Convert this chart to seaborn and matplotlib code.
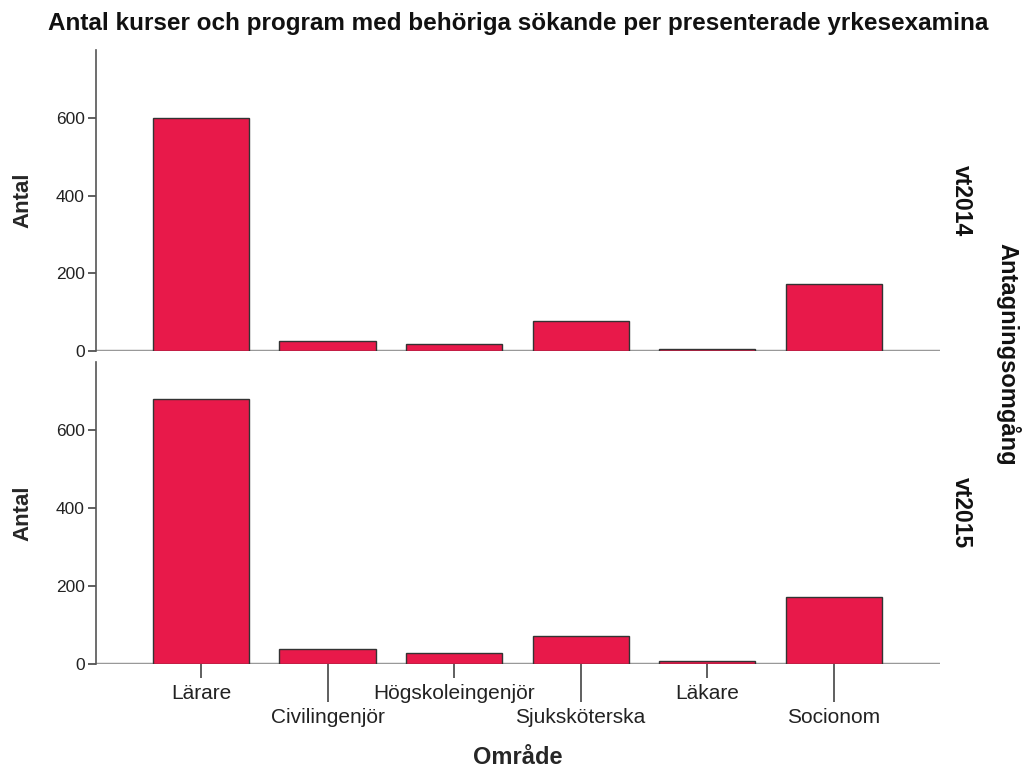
import pandas as pd
import matplotlib.pyplot as plt
import seaborn as sns

# Data
omraden = ['Lärare', 'Civilingenjör', 'Högskoleingenjör', 'Sjuksköterska', 'Läkare', 'Socionom']
vt2014 = [601, 26, 18, 77, 6, 173]
vt2015 = [680, 39, 27, 73, 8, 173]
omgangar = ['vt2014', 'vt2015']

df = pd.DataFrame({
    'Område': omraden * 2,
    'Antal': vt2014 + vt2015,
    'Antagningsomgång': [omgangar[0]] * len(omraden) + [omgangar[1]] * len(omraden),
})

sns.set_style('white')
plt.rcParams['font.family'] = ['Liberation Sans', 'DejaVu Sans']

bar_color = '#E8194A'

fig = plt.figure(figsize=(10.3, 7.73), dpi=100)
ax_top = fig.add_axes([0.0932, 0.546, 0.8194, 0.389])
ax_bot = fig.add_axes([0.0932, 0.141, 0.8194, 0.391])

for ax, omg in zip([ax_top, ax_bot], omgangar):
    sub = df[df['Antagningsomgång'] == omg]
    sns.barplot(data=sub, x='Område', y='Antal', color=bar_color, width=0.76,
                edgecolor='#333333', linewidth=1, saturation=1, ax=ax)
    ax.set_xlim(-0.83, 5.84)
    ax.set_ylim(0, 775)
    ax.set_yticks([0, 200, 400, 600])
    ax.axhline(0, color='#999999', linewidth=2.5, zorder=0.5)
    for s in ['top', 'right', 'bottom']:
        ax.spines[s].set_visible(False)
    ax.spines['left'].set_color('#555555')
    ax.spines['left'].set_linewidth(1.2)
    ax.tick_params(axis='y', direction='out', length=6, width=1.2, color='#444444',
                   labelsize=12.5, labelcolor='#222222', left=True, pad=2)
    ax.set_ylabel('Antal', fontsize=16, fontweight='bold')
    ax.yaxis.set_label_coords(-0.074, 0.5)
    ax.text(1.025, 0.5, omg, transform=ax.transAxes, rotation=-90, fontsize=16.5,
            fontweight='bold', ha='center', va='center', color='#111111')

ax_top.set_xlabel('')
ax_top.set_xticks([])

# staggered category labels: long ticks for every second category
ax_bot.set_xticks(range(0, len(omraden), 2))
ax_bot.set_xticklabels(omraden[0::2])
ax_bot.set_xticks(range(1, len(omraden), 2), minor=True)
ax_bot.set_xticklabels(omraden[1::2], minor=True)
ax_bot.tick_params(axis='x', which='major', direction='out', bottom=True, length=10,
                   width=1.2, color='#444444', labelsize=15, labelcolor='#222222', pad=4.5)
ax_bot.tick_params(axis='x', which='minor', direction='out', bottom=True, length=27,
                   width=1.2, color='#444444', labelsize=15, labelcolor='#222222', pad=4.5)
ax_bot.set_xlabel('Område', fontsize=17, fontweight='bold')
ax_bot.xaxis.set_label_coords(0.5, -0.272)

fig.text(0.979, 0.541, 'Antagningsomgång', rotation=-90, fontsize=17,
         fontweight='bold', ha='center', va='center', color='#111111')
fig.suptitle('Antal kurser och program med behöriga sökande per presenterade yrkesexamina',
             fontsize=17.5, fontweight='bold', x=0.503, y=0.969, va='center', color='#111111')

fig.savefig('out.png', dpi=100, facecolor='white')
